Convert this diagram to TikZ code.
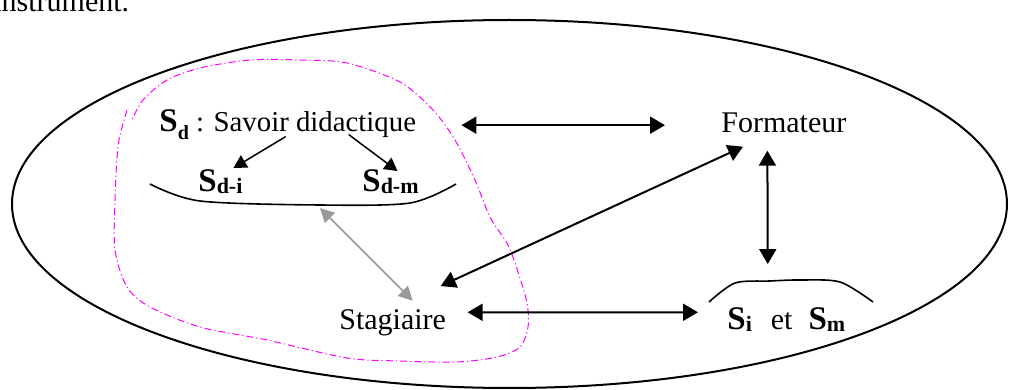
\documentclass[tikz,border=0pt]{standalone}
\usepackage{fontspec}
\setmainfont{Liberation Serif}
\usetikzlibrary{arrows.meta}

\definecolor{loopmagenta}{RGB}{255,0,255}
\definecolor{linkgrey}{RGB}{153,153,153}
\newcommand{\bsub}[2][-1pt]{\raisebox{#1}{\fontsize{11}{11}\selectfont\bfseries #2}}
\newcommand{\bigS}{{\fontsize{16.5}{19}\selectfont\bfseries S}}

\begin{document}
\begin{tikzpicture}[x=0.5pt,y=-0.5pt,
  txt/.style={inner sep=0pt,anchor=base west,font=\fontsize{15}{18}\selectfont},
  dbl/.style={line width=1pt,{Triangle[length=7.5pt,width=8.5pt]}-{Triangle[length=7.5pt,width=8.5pt]}},
  subarrow/.style={line width=0.75pt,-{Triangle[length=6.5pt,width=7pt]}},
  greyarrow/.style={line width=0.8pt,linkgrey,{Triangle[length=7pt,width=7pt]}-{Triangle[length=7pt,width=7pt]}},
  brace/.style={line width=0.8pt},
  loop/.style={line width=0.5pt,loopmagenta,dash pattern=on 3.5pt off 1.5pt on 0.6pt off 1.5pt}]
\useasboundingbox (0,0) rectangle (1009,390);
% outer frame and the dash-dot zone round the didactic knowledge
\draw[line width=1pt] (509.5,204) ellipse [x radius=248.75pt,y radius=92pt];
\draw[loop] plot[smooth] coordinates {(127,110) (120,135) (117,157) (115,200) (115,250) (127,287) (150,307) (200,327) (267,340) (347,358) (400,361) (457,362) (497,357) (520,347) (528,327) (527,303) (518,272) (508,245) (490,217) (475,180) (455,140) (433,110) (400,82) (347,63) (300,60) (250,60) (200,68) (167,80) (143,100) (131,122)};
% texts
\node[txt] (instr) at (-7,12) {instrument.};
\node[txt] (sd) at (159,132) {\bigS\raisebox{-4pt}{\fontsize{10}{10}\selectfont\bfseries d}{\fontsize{14.4}{17}\selectfont{} : Savoir didactique}};
\node[txt] (sdi) at (198,192) {\bigS\bsub{d-i}};
\node[txt] (sdm) at (362,192) {\bigS\bsub{d-m}};
\node[txt] (form) at (721,133) {Formateur};
\node[txt] (stag) at (339,329) {Stagiaire};
\node[txt] (sism) at (727,330) {\bigS\bsub{i}\hspace{9.5pt}et\hspace{8pt}\bigS\bsub{m}};
% braces
\draw[brace] plot[smooth] coordinates {(150,184) (200,201) (320,205) (410,203) (456,184)};
\coordinate (sdlow) at (320,208);
\draw[brace] plot[smooth] coordinates {(709,302) (735,283) (770,281) (800,280) (840,282) (873,302)};
% links
\draw[subarrow] ([xshift=-1pt,yshift=2pt]sd.south) -- ([xshift=6.5pt,yshift=0.85pt]sdi.north);
\draw[subarrow] ([xshift=30.5pt,yshift=3pt]sd.south) -- ([xshift=3.5pt,yshift=-0.65pt]sdm.north);
\draw[dbl] ([xshift=22.5pt]sd.east) -- ([xshift=-28pt]sd.east -| form.west);
\draw[dbl] ([xshift=-8.25pt,yshift=-8.5pt]form.south) -- ([xshift=-9.25pt,yshift=21.85pt]sism.north);
\draw[dbl] ([xshift=11pt,yshift=-6.5pt]form.south west) -- ([xshift=-2.85pt,yshift=11.35pt]stag.north east);
\draw[greyarrow] (sdlow) -- ([xshift=10pt,yshift=4pt]stag.north);
\draw[dbl] ([xshift=10.6pt,yshift=5pt]stag.east) -- ([xshift=-14.5pt,yshift=3.9pt]sism.west);
\end{tikzpicture}
\end{document}
